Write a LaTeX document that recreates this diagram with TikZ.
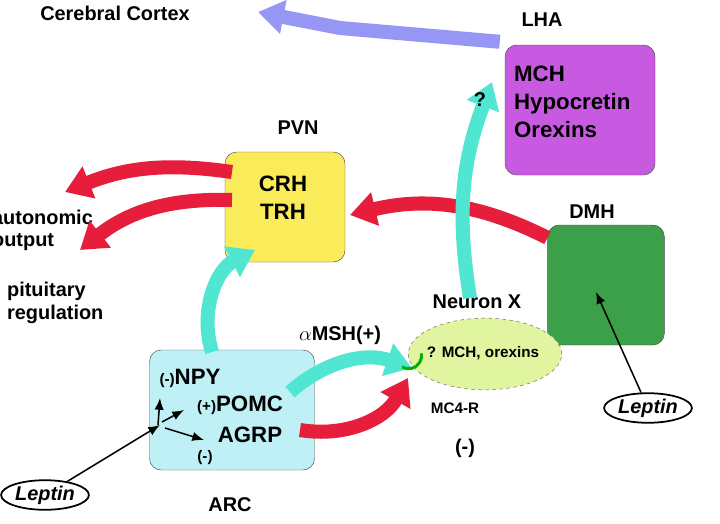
\documentclass[tikz,border=0pt]{standalone}
\usepackage{fontspec}
\setmainfont{Liberation Sans}
\usetikzlibrary{arrows.meta,shapes.geometric}
\definecolor{lhacol}{RGB}{200,90,225}
\definecolor{pvncol}{RGB}{250,235,90}
\definecolor{dmhcol}{RGB}{60,160,75}
\definecolor{arccol}{RGB}{190,240,245}
\definecolor{nxcol}{RGB}{225,245,160}
\definecolor{redarr}{RGB}{230,30,60}
\definecolor{cyanarr}{RGB}{80,230,210}
\definecolor{blarr}{RGB}{150,150,245}
\begin{document}
\begin{tikzpicture}
  [x=0.03cm,y=-0.03cm,
   every node/.style={font=\bfseries\fontsize{17}{19}\selectfont},
   big/.style={font=\bfseries\fontsize{19}{24}\selectfont},
   small/.style={font=\bfseries\fontsize{13}{15}\selectfont},
   box/.style={draw=black!70,rounded corners=10pt,inner sep=0},
   fat/.style={line width=12pt,-{Triangle[length=22pt,width=28pt]}},
   thin/.style={line width=1.3pt,-{Latex[length=10pt,width=8pt]}}]
  \useasboundingbox (0,0) rectangle (720,523);

  % boxes
  \node[box,fill=lhacol,minimum width=4.5cm,minimum height=3.9cm] (lha) at (580,110) {};
  \node[box,fill=pvncol,minimum width=3.6cm,minimum height=3.3cm] (pvn) at (285,207) {};
  \node[box,fill=dmhcol,minimum width=3.5cm,minimum height=3.6cm] (dmh) at (606,285) {};
  \node[box,fill=arccol,minimum width=4.95cm,minimum height=3.6cm] (arc) at (232,410) {};
  \node[draw=black!60,dashed,fill=nxcol,ellipse,inner sep=0,minimum width=4.6cm,minimum height=2.15cm] (nx) at (485,354) {};

  % labels
  \node (cc) at (115,13) {Cerebral Cortex};
  \node (lhal) at (542,20) {LHA};
  \node[big,align=left,anchor=north west] (lhat) at (510,62)
    {MCH\\Hypocretin\\Orexins};
  \node (pvnl) at (298,128) {PVN};
  \node[big,align=center] (pvnt) at (283,198) {CRH\\TRH};
  \node (dmhl) at (592,212) {DMH};
  \node (arcl) at (230,505) {ARC};
  \node (nxl) at (477,302) {Neuron X};
  \node[small] (nxt) at (483,353) {? MCH, orexins};
  \node[small] (mc4) at (455,408) {MC4-R};
  \node (msh) at (340,335) {$\boldmath\alpha$MSH(+)};
  \node (minus) at (465,448) {(-)};
  \node[align=left,anchor=west] (auto) at (-12,230) {autonomic\\output};
  \node[align=left,anchor=west] (pit) at (3,303) {pituitary\\regulation};
  \node[big] (npy) at (190,378) {\fontsize{13}{13}\selectfont(-)\fontsize{19}{19}\selectfont NPY};
  \node[big] (pomc) at (240,405) {\fontsize{13}{13}\selectfont(+)\fontsize{19}{19}\selectfont POMC};
  \node[big] (agrp) at (250,435) {AGRP};
  \node[small] (agm) at (205,458) {(-)};
  \node[draw,ellipse,line width=1.5pt,inner sep=1pt,font=\bfseries\itshape\fontsize{17}{19}\selectfont] (lepl) at (45,495) {Leptin};
  \node[draw,ellipse,line width=1.5pt,inner sep=1pt,font=\bfseries\itshape\fontsize{17}{19}\selectfont] (lepr) at (648,408) {Leptin};

  % fat arrows
  \draw[fat,blarr] (lha.north west) ++(-5,-3) -- (340,28) -- (258,12);
  \draw[fat,redarr] (232,172) to[bend right=15] (65,192);
  \draw[fat,redarr] (232,200) to[bend right=20] (80,250);
  \draw[fat,redarr] (dmh.north west) ++(0,13) to[bend right=20] (350,215);
  \draw[fat,redarr] (300,430) to[bend right=35] (408,378);
  \draw[fat,cyanarr] (212,352) to[bend left=40] (255,250);
  \draw[fat,cyanarr] (290,392) to[bend left=30] (412,368);
  \draw[fat,cyanarr] (470,298) to[bend left=15] (492,82);
  \draw[green!70!black,line width=2.5pt] (402,367) arc[start angle=120,end angle=-10,radius=13];
  \node (q) at (480,100) {?};

  % thin arrows
  \draw[thin] (lepl) -- (160,425);
  \draw[thin] (158,425) -- (160,398);
  \draw[thin] (162,422) -- (184,410);
  \draw[thin] (165,428) -- (204,440);
  \draw[thin] (lepr) -- (596,292);
\end{tikzpicture}
\end{document}
